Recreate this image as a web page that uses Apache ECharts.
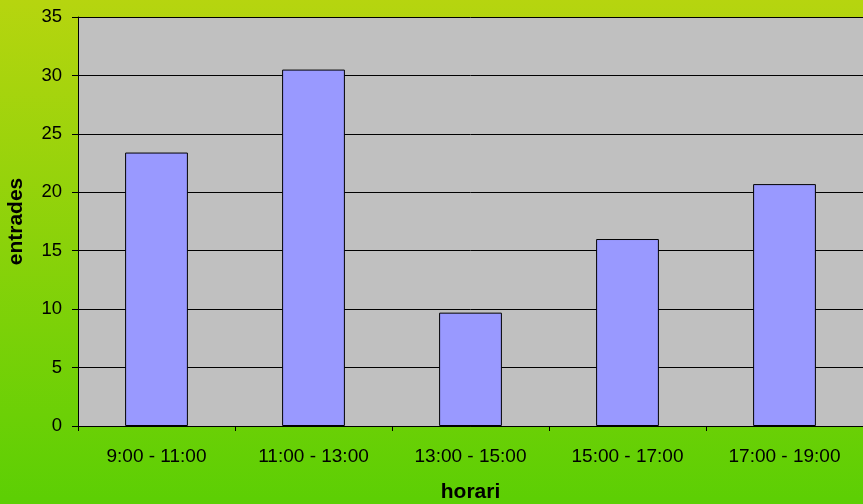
<!DOCTYPE html>
<html><head><meta charset="utf-8">
<script src="https://cdn.jsdelivr.net/npm/echarts@6/dist/echarts.min.js"></script>
<style>html,body{margin:0;padding:0;}#c{width:863px;height:504px;}</style>
</head><body><div id="c"></div>
<script>
const categories = ['9:00 - 11:00', '11:00 - 13:00', '13:00 - 15:00', '15:00 - 17:00', '17:00 - 19:00'];
const entrades = [23.4, 30.5, 9.7, 16.0, 20.7];
const chart = echarts.init(document.getElementById('c'));
const font = 'Liberation Sans, Arial, sans-serif';
chart.setOption({
  backgroundColor: new echarts.graphic.LinearGradient(0, 0, 0, 1, [
    {offset: 0, color: '#b6d50f'},
    {offset: 1, color: '#5ccf04'}
  ]),
  animation: false,
  grid: {left: 78, right: 0, top: 17, bottom: 78, show: true, backgroundColor: '#c0c0c0', borderColor: '#000', borderWidth: 0, containLabel: false, outerBoundsMode: 'none'},
  xAxis: {
    type: 'category', data: categories,
    name: 'horari', nameLocation: 'middle', nameGap: 56,
    nameTextStyle: {fontFamily: font, fontSize: 21, fontWeight: 'bold', color: '#000'},
    axisLine: {lineStyle: {color: '#000', width: 1}},
    axisTick: {show: true, length: 5, lineStyle: {color: '#000'}},
    axisLabel: {fontFamily: font, fontSize: 19, color: '#000', margin: 21}
  },
  yAxis: {
    type: 'value', min: 0, max: 35, interval: 5,
    name: 'entrades', nameLocation: 'middle', nameGap: 51,
    nameTextStyle: {fontFamily: font, fontSize: 21, fontWeight: 'bold', color: '#000'},
    axisLine: {show: true, lineStyle: {color: '#000', width: 1}},
    axisTick: {show: true, length: 6, lineStyle: {color: '#000'}},
    axisLabel: {fontFamily: font, fontSize: 18.5, color: '#000', margin: 16},
    splitLine: {lineStyle: {color: '#000', width: 1}}
  },
  series: [{
    type: 'bar', data: entrades, barWidth: '40%',
    itemStyle: {color: '#9999ff', borderColor: '#000', borderWidth: 1}
  }]
});
</script></body></html>
